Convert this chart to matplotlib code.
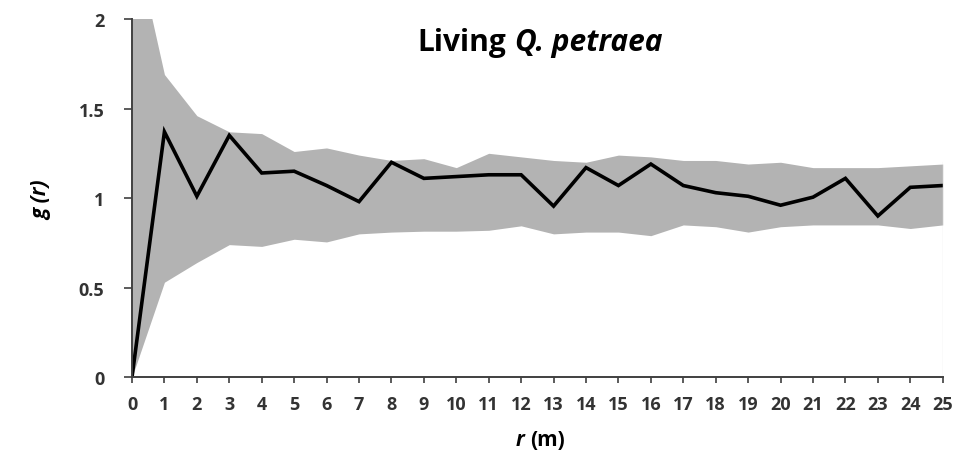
import numpy as np
import matplotlib
matplotlib.use('Agg')
import matplotlib.pyplot as plt

plt.rcParams['font.family'] = ['Open Sans', 'DejaVu Sans']

# distance classes (m)
r = list(range(26))
# observed pair-correlation function
g_obs = [0.0, 1.37, 1.01, 1.35, 1.14, 1.15, 1.07, 0.98, 1.20, 1.11,
         1.12, 1.13, 1.13, 0.955, 1.17, 1.07, 1.19, 1.07, 1.03, 1.01,
         0.96, 1.005, 1.11, 0.90, 1.06, 1.07]
# simulation envelope
g_hi = [2.5, 1.69, 1.46, 1.37, 1.36, 1.26, 1.28, 1.24, 1.21, 1.22,
        1.17, 1.25, 1.23, 1.21, 1.20, 1.24, 1.23, 1.21, 1.21, 1.19,
        1.20, 1.17, 1.17, 1.17, 1.18, 1.19]
g_lo = [0.0, 0.53, 0.64, 0.74, 0.73, 0.77, 0.755, 0.80, 0.81, 0.815,
        0.815, 0.82, 0.845, 0.80, 0.81, 0.81, 0.79, 0.85, 0.84, 0.81,
        0.84, 0.85, 0.85, 0.85, 0.83, 0.85]
y_ticks = [0, 0.5, 1, 1.5, 2]
y_labels = ['0', '0.5', '1', '1.5', '2']

fig = plt.figure(figsize=(9.6, 4.6), dpi=100)
ax = fig.add_axes([0.1375, 0.178, 0.982 - 0.1375, 0.9565 - 0.178])

ax.fill_between(r, g_lo, g_hi, color='#b3b3b3', linewidth=0)
ax.plot(r, g_obs, color='black', linewidth=2.6, solid_joinstyle='miter')

ax.set_xlim(0, 25)
ax.set_ylim(0, 2)
ax.set_xticks(r)
ax.set_xticklabels([str(v) for v in r])
ax.set_yticks(y_ticks)
ax.set_yticklabels(y_labels)

for s in ['top', 'right']:
    ax.spines[s].set_visible(False)
for s in ['left', 'bottom']:
    ax.spines[s].set_color('#404040')
    ax.spines[s].set_linewidth(1.4)
ax.axvline(25, color='#e6e6e6', linewidth=1, ymax=0.6)

ax.tick_params(axis='both', direction='out', width=1.2,
               color='#404040', labelcolor='#333333', labelsize=13)
ax.tick_params(axis='x', length=4.5, pad=8.5)
ax.tick_params(axis='y', length=6, pad=14)
for lab in ax.get_xticklabels() + ax.get_yticklabels():
    lab.set_fontweight('bold')

ax.text(0.4615, 0.935, 'Living', transform=ax.transAxes, ha='right',
        va='center', fontsize=21.5, fontweight='bold', color='black')
ax.text(0.4725, 0.935, 'Q. petraea', transform=ax.transAxes, ha='left',
        va='center', fontsize=21.5, fontweight='bold', style='italic',
        color='black')

fig.text(0.043, 0.565, 'g (r)', rotation=90, ha='center', va='center',
         fontsize=15, fontweight='bold', style='italic', color='black')
fig.text(0.5465, 0.042, 'r', ha='right', va='center', fontsize=15,
         fontweight='bold', style='italic', color='black')
fig.text(0.5525, 0.042, '(m)', ha='left', va='center', fontsize=15,
         fontweight='bold', color='black')

fig.savefig('out.png', dpi=100)
